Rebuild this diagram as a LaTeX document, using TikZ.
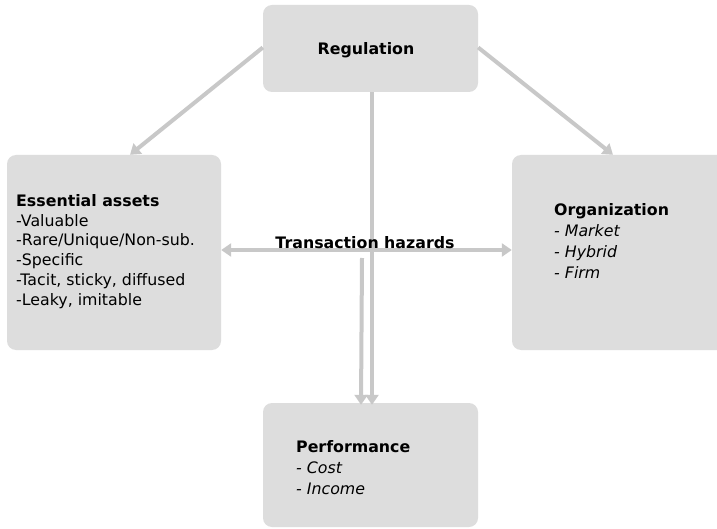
\documentclass[tikz,border=0pt]{standalone}
\usepackage{fontspec}
\setmainfont{DejaVu Sans}
\usetikzlibrary{arrows.meta}
\definecolor{boxgray}{RGB}{221,221,221}
\definecolor{arrgray}{RGB}{200,200,200}
\begin{document}
\begin{tikzpicture}[x=1pt,y=-1pt,
  box/.style={fill=boxgray, draw=none, rounded corners=9pt, inner sep=0pt},
  conn/.style={draw=arrgray, line width=4pt, -{Triangle[width=13pt,length=10pt]}},
  conn2/.style={draw=arrgray, line width=4pt, {Triangle[width=13pt,length=10pt]}-{Triangle[width=13pt,length=10pt]}},
  txt/.style={font=\fontsize{15.8}{19.8}\selectfont, align=left, inner sep=0pt},
  txtb/.style={font=\fontsize{15.8}{21.2}\selectfont, align=left, inner sep=0pt},
]
\clip (0,0) rectangle (717,529);
\fill[white] (0,0) rectangle (717,529);
% boxes
\node[box, minimum width=215pt, minimum height=87pt] (reg) at (370.5,48.5) {};
\node[box, minimum width=214pt, minimum height=195pt] (ess) at (114,252.5) {};
\node[box, minimum width=216pt, minimum height=195pt] (org) at (620,252.5) {};
\node[box, minimum width=215pt, minimum height=124pt] (perf) at (370.5,465) {};
% texts
\node[txt, anchor=center] (regt) at (366,50) {\textbf{Regulation}};
\node[txt, anchor=north west] (esst) at (16,194) {\textbf{Essential assets}\\-Valuable\\-Rare/Unique/Non-sub.\\-Specific\\-Tacit, sticky, diffused\\-Leaky, imitable};
\node[txtb, anchor=north west] (orgt) at (554,203) {\textbf{Organization}\\\textit{- Market}\\\textit{- Hybrid}\\\textit{- Firm}};
\node[txtb, anchor=north west] (perft) at (296,440) {\textbf{Performance}\\\textit{- Cost}\\\textit{- Income}};
% connectors
\coordinate (hz) at (362,258);
\draw[conn] ([yshift=1pt]reg.west) -- ([xshift=16pt]ess.north);
\draw[conn] ([yshift=1pt]reg.east) -- ([xshift=-7pt]org.north);
\draw[conn] ([xshift=1.5pt]reg.south) -- ([xshift=1.5pt,yshift=-2pt]perf.north);
\draw[conn] (hz) -- ([xshift=-9.5pt,yshift=-2pt]perf.north);
\draw[conn2] ([yshift=2.5pt]ess.east) -- ([yshift=2.5pt]org.west);
\node[txt, font=\fontsize{15.8}{19}\selectfont\bfseries] (th) at (365,243) {Transaction hazards};
\end{tikzpicture}
\end{document}
